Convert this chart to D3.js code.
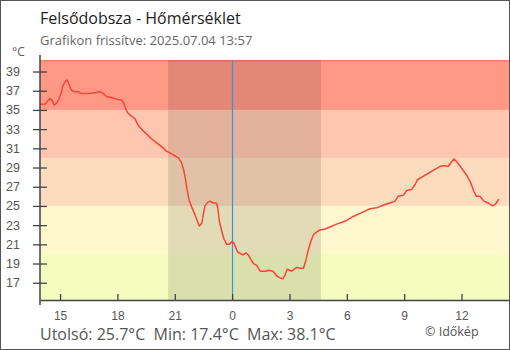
<!DOCTYPE html>
<html>
<head>
<meta charset="utf-8">
<script src="https://cdn.jsdelivr.net/npm/d3@7"></script>
<style>
  html, body { margin: 0; padding: 0; background: #fff; }
  svg { display: block; font-family: "Open Sans", "Noto Sans", sans-serif; }
</style>
</head>
<body>
<svg id="chart" width="510" height="350"></svg>
<script>
const title = "Felsődobsza - Hőmérséklet";
const subtitle = "Grafikon frissítve: 2025.07.04 13:57";
const unitLabel = "°C";
const footerStats = "Utolsó: 25.7°C  Min: 17.4°C  Max: 38.1°C";
const credit = "© Időkép";

const xDomain = ["2025-07-03 13:57", "2025-07-04 14:29"];
const yDomain = [15.2, 40.2];
const yTicks = [17, 19, 21, 23, 25, 27, 29, 31, 33, 35, 37, 39];
const nightStart = "2025-07-03 20:39";
const nightEnd = "2025-07-04 04:39";
const midnight = "2025-07-04 00:00";

const bandLimits = [15.2, 20, 25, 30, 35, 40, 40.2];
const bandColors = ["#f5fcc0", "#fff7cd", "#fcdcbc", "#fec6af", "#ff9985", "#f7806a"];

const times = [
"2025-07-03 13:57","2025-07-03 14:13","2025-07-03 14:20","2025-07-03 14:28","2025-07-03 14:35","2025-07-03 14:42",
"2025-07-03 14:49","2025-07-03 14:56","2025-07-03 15:03","2025-07-03 15:09","2025-07-03 15:15","2025-07-03 15:22",
"2025-07-03 15:28","2025-07-03 15:33","2025-07-03 15:38","2025-07-03 15:47","2025-07-03 15:57","2025-07-03 16:07",
"2025-07-03 16:28","2025-07-03 16:49","2025-07-03 17:05","2025-07-03 17:16","2025-07-03 17:26","2025-07-03 17:41",
"2025-07-03 18:00","2025-07-03 18:13","2025-07-03 18:20","2025-07-03 18:25","2025-07-03 18:32","2025-07-03 18:42",
"2025-07-03 18:55","2025-07-03 19:05","2025-07-03 19:18","2025-07-03 19:31","2025-07-03 19:47","2025-07-03 20:02",
"2025-07-03 20:18","2025-07-03 20:34","2025-07-03 20:46","2025-07-03 21:01","2025-07-03 21:11","2025-07-03 21:20",
"2025-07-03 21:27","2025-07-03 21:33","2025-07-03 21:38","2025-07-03 21:45","2025-07-03 21:53","2025-07-03 22:02",
"2025-07-03 22:11","2025-07-03 22:17","2025-07-03 22:25","2025-07-03 22:30","2025-07-03 22:35","2025-07-03 22:44",
"2025-07-03 22:51","2025-07-03 23:01","2025-07-03 23:10","2025-07-03 23:15","2025-07-03 23:20","2025-07-03 23:28",
"2025-07-03 23:35","2025-07-03 23:43","2025-07-03 23:52","2025-07-03 23:59","2025-07-04 00:06","2025-07-04 00:17",
"2025-07-04 00:34","2025-07-04 00:44","2025-07-04 00:51","2025-07-04 00:59","2025-07-04 01:07","2025-07-04 01:17",
"2025-07-04 01:28","2025-07-04 01:44","2025-07-04 01:54","2025-07-04 02:08","2025-07-04 02:20","2025-07-04 02:31",
"2025-07-04 02:39","2025-07-04 02:46","2025-07-04 02:53","2025-07-04 03:07","2025-07-04 03:23","2025-07-04 03:35",
"2025-07-04 03:44","2025-07-04 03:52","2025-07-04 03:59","2025-07-04 04:07","2025-07-04 04:15","2025-07-04 04:26",
"2025-07-04 04:36","2025-07-04 04:52","2025-07-04 05:07","2025-07-04 05:28","2025-07-04 05:55","2025-07-04 06:20",
"2025-07-04 06:47","2025-07-04 07:13","2025-07-04 07:34","2025-07-04 07:55","2025-07-04 08:16","2025-07-04 08:31",
"2025-07-04 08:41","2025-07-04 08:57","2025-07-04 09:08","2025-07-04 09:23","2025-07-04 09:34","2025-07-04 09:41",
"2025-07-04 09:55","2025-07-04 10:11","2025-07-04 10:31","2025-07-04 10:52","2025-07-04 11:08","2025-07-04 11:18",
"2025-07-04 11:29","2025-07-04 11:36","2025-07-04 11:45","2025-07-04 12:01","2025-07-04 12:16","2025-07-04 12:29",
"2025-07-04 12:39","2025-07-04 12:47","2025-07-04 12:58","2025-07-04 13:10","2025-07-04 13:24","2025-07-04 13:38",
"2025-07-04 13:47","2025-07-04 13:57"
];
const temps = [
35.6,35.6,35.9,36.2,36.0,35.5,
35.7,36.1,36.7,37.5,37.9,38.1,
37.7,37.2,37.0,36.9,36.9,36.7,
36.7,36.8,36.9,36.7,36.4,36.3,
36.1,36.0,35.7,35.2,34.7,34.4,
34.1,33.4,32.9,32.5,32.0,31.6,
31.2,30.7,30.5,30.2,30.0,29.6,
28.9,27.9,26.8,25.6,24.9,24.2,
23.4,22.9,23.2,24.2,25.0,25.4,
25.5,25.3,25.3,24.8,23.4,22.3,
21.5,21.0,21.0,21.3,21.1,20.2,
19.9,20.1,19.9,19.4,19.0,18.8,
18.2,18.2,18.3,18.2,17.7,17.5,
17.4,17.8,18.4,18.2,18.6,18.5,
18.5,19.4,20.4,21.3,22.0,22.3,
22.5,22.6,22.8,23.1,23.4,23.9,
24.3,24.7,24.8,25.1,25.3,25.5,
26.0,26.1,26.6,26.7,27.2,27.7,
28.0,28.3,28.7,29.1,29.2,29.1,
29.6,29.9,29.6,28.9,28.2,27.4,
26.5,26.0,26.0,25.5,25.3,25.0,
25.2,25.7
];

const parse = d3.timeParse("%Y-%m-%d %H:%M");
const data = times.map((t, i) => ({ t: parse(t), v: temps[i] }));

const svg = d3.select("#chart");
const pLeft = 40, pRight = 509, pTop = 60, pBottom = 300;

const x = d3.scaleTime().domain(xDomain.map(parse)).range([pLeft, pRight]);
const y = d3.scaleLinear().domain(yDomain).range([pBottom, pTop]);

// outer frame
svg.append("rect").attr("x", 0.5).attr("y", 0.5).attr("width", 509).attr("height", 349)
  .attr("fill", "#fff").attr("stroke", "#555").attr("stroke-width", 1);

// bands
const bands = bandColors.map((c, i) => ({ lo: bandLimits[i], hi: bandLimits[i + 1], c }));
svg.append("g").selectAll("rect").data(bands).join("rect")
  .attr("x", pLeft).attr("width", pRight - pLeft)
  .attr("y", d => y(d.hi)).attr("height", d => y(d.lo) - y(d.hi))
  .attr("fill", d => d.c);

// night overlay
svg.append("rect")
  .attr("x", x(parse(nightStart))).attr("width", x(parse(nightEnd)) - x(parse(nightStart)))
  .attr("y", pTop).attr("height", pBottom - pTop)
  .attr("fill", "#000").attr("fill-opacity", 0.11);

// midnight line
const mx = Math.round(x(parse(midnight))) + 0.5;
svg.append("line")
  .attr("x1", mx).attr("x2", mx)
  .attr("y1", pTop).attr("y2", pBottom)
  .attr("stroke", "#2f98e0").attr("stroke-width", 1.2);

// temperature line
svg.append("path").datum(data)
  .attr("fill", "none").attr("stroke", "#fa4438").attr("stroke-width", 1.5)
  .attr("stroke-linejoin", "round")
  .attr("d", d3.line().x(d => x(d.t)).y(d => y(d.v)));

// x axis
const xAxis = d3.axisBottom(x)
  .ticks(d3.timeHour.every(3))
  .tickFormat(d3.timeFormat("%-H"))
  .tickSizeInner(-6).tickSizeOuter(0).tickPadding(11);
const gx = svg.append("g").attr("transform", `translate(0,${pBottom})`).call(xAxis);
gx.select(".domain").attr("stroke", "#444").attr("stroke-width", 1.5);
gx.selectAll(".tick line").attr("stroke", "#444").attr("stroke-width", 1.3);
gx.selectAll(".tick text").attr("fill", "#555").attr("font-size", 12).attr("font-family", null);

// y axis
const yAxis = d3.axisLeft(y).tickValues(yTicks).tickSize(7).tickSizeOuter(0).tickPadding(13);
const gy = svg.append("g").attr("transform", `translate(${pLeft},0)`).call(yAxis);
gy.select(".domain").remove();
gy.selectAll(".tick line").attr("x2", 7).attr("x1", -7).attr("stroke", "#444").attr("stroke-width", 1.3);
gy.selectAll(".tick text").attr("fill", "#555").attr("font-size", 12.5).attr("font-family", null);
svg.append("line").attr("x1", pLeft).attr("x2", pLeft).attr("y1", 55).attr("y2", 305)
  .attr("stroke", "#444").attr("stroke-width", 1.5);

// texts
svg.append("text").attr("x", 40).attr("y", 24).attr("font-size", 16).attr("fill", "#222").text(title);
svg.append("text").attr("x", 40).attr("y", 45).attr("font-size", 13).attr("fill", "#666").text(subtitle);
svg.append("text").attr("x", 12).attr("y", 56).attr("font-size", 12).attr("fill", "#555").text(unitLabel);
svg.append("text").attr("x", 40).attr("y", 340).attr("font-size", 16).attr("fill", "#555")
  .attr("xml:space", "preserve").style("white-space", "pre").text(footerStats);
svg.append("text").attr("x", 425).attr("y", 336).attr("font-size", 12.5).attr("fill", "#555").text(credit);
</script>
</body>
</html>
